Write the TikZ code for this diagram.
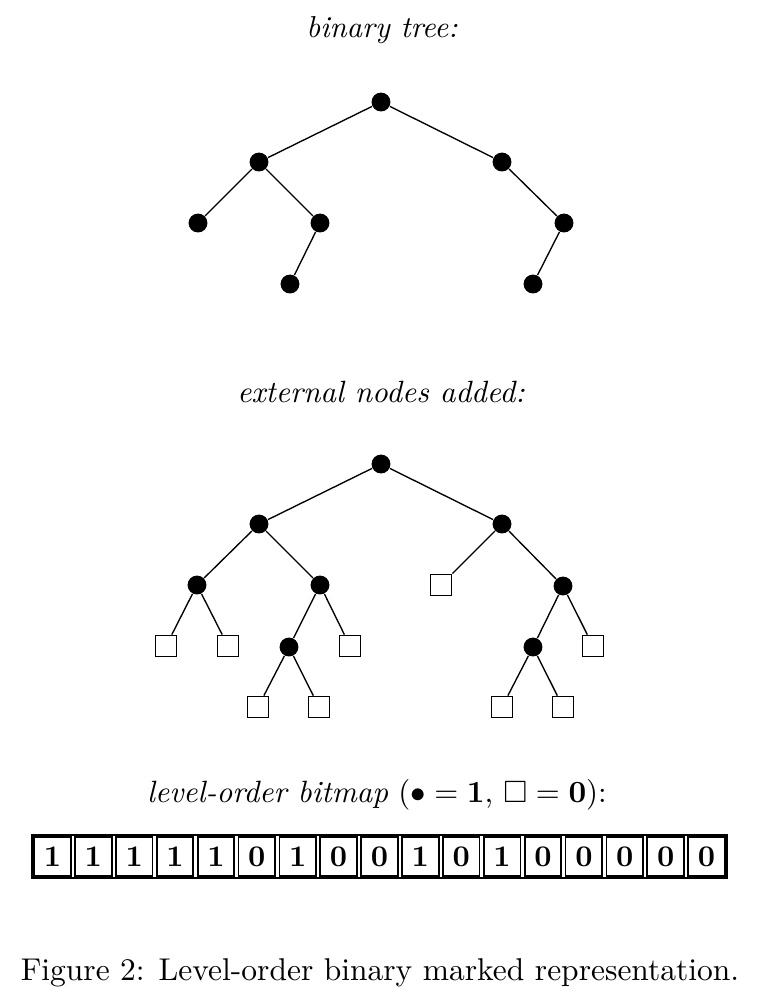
\documentclass[tikz,border=0pt]{standalone}
\usepackage{amssymb}
\tikzset{
  dot/.style={circle,fill=black,inner sep=0pt,minimum size=6.3pt},
  ext/.style={draw,line width=0.5pt,inner sep=0pt,minimum size=7.1pt},
  edge/.style={line width=0.45pt},
  cell/.style={draw,line width=0.6pt,inner sep=0pt,minimum width=12.2pt,minimum height=12.9pt,font=\bfseries},
  frame/.style={draw,line width=0.7pt,inner sep=0pt,minimum width=231.6pt,minimum height=14.3pt},
  lbl/.style={anchor=base,inner sep=0pt}
}
\begin{document}
\begin{tikzpicture}[x=0.33333pt,y=-0.33333pt]
\useasboundingbox (0,0) rectangle (783,992);
% titles
\node[lbl,scale=1.01] (t1) at (382,37) {\itshape binary tree:};
\node[lbl,scale=1.025] (t2) at (381,402) {\itshape external nodes added:};
\node[lbl,scale=1.027] (t3) at (377,802) {\textit{level-order bitmap} ($\bullet=\mathbf{1}$, $\square=\mathbf{0}$):};
\node[lbl,scale=1.05] (cap) at (380,980) {Figure 2: Level-order binary marked representation.};
% tree 1
\node[dot] (a) at (381,102) {};
\node[dot] (b) at (259,162) {};
\node[dot] (c) at (502,162) {};
\node[dot] (d) at (198,223) {};
\node[dot] (e) at (320,223) {};
\node[dot] (f) at (564,223) {};
\node[dot] (g) at (290,284) {};
\node[dot] (h) at (533,284) {};
\draw[edge] (a)--(b) (a)--(c) (b)--(d) (b)--(e) (e)--(g) (c)--(f) (f)--(h);
% tree 2
\node[dot] (A) at (381,464) {};
\node[dot] (B) at (259,524) {};
\node[dot] (C) at (502,524) {};
\node[dot] (D) at (197,585) {};
\node[dot] (E) at (320,585) {};
\node[ext] (x1) at (441,585) {};
\node[dot] (F) at (563,586) {};
\node[ext] (x2) at (166,646) {};
\node[ext] (x3) at (228,646) {};
\node[dot] (G) at (289,647) {};
\node[ext] (x4) at (350,646) {};
\node[dot] (H) at (533,647) {};
\node[ext] (x5) at (593,646) {};
\node[ext] (x6) at (258,707) {};
\node[ext] (x7) at (319,707) {};
\node[ext] (x8) at (502,707) {};
\node[ext] (x9) at (563,707) {};
\draw[edge] (A)--(B) (A)--(C) (B)--(D) (B)--(E) (C)--(x1) (C)--(F)
  (D)--(x2) (D)--(x3) (E)--(G) (E)--(x4) (F)--(H) (F)--(x5)
  (G)--(x6) (G)--(x7) (H)--(x8) (H)--(x9);
% bitmap
\node[frame] (bm) at (379.5,856.5) {};
\foreach \b [count=\i from 0] in {1,1,1,1,1,0,1,0,0,1,0,1,0,0,0,0,0}
  \node[cell] (c\i) at ({32+(\i+0.5)*40.88},856.5) {\b};
\end{tikzpicture}
\end{document}
